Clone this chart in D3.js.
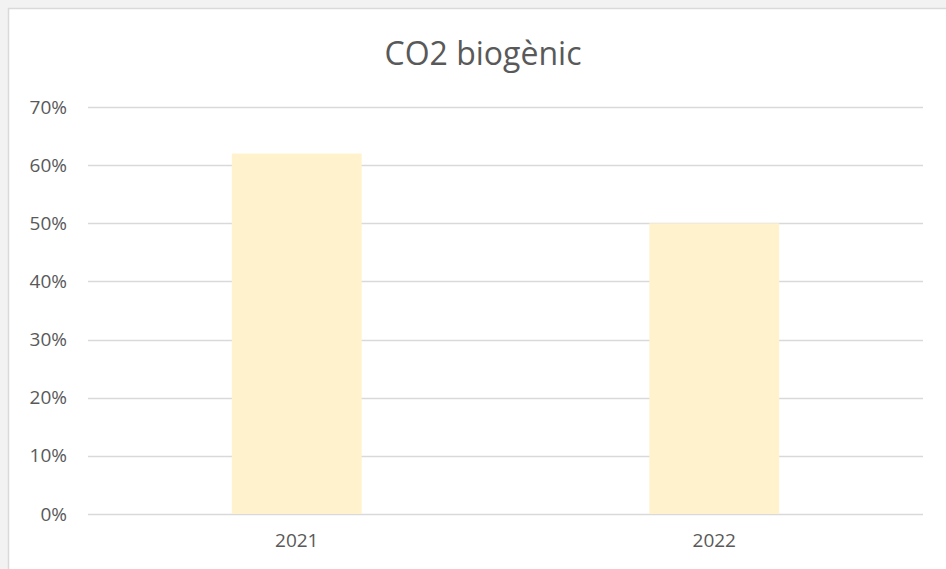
<!DOCTYPE html>
<html><head><meta charset="utf-8">
<script src="https://cdn.jsdelivr.net/npm/d3@7"></script>
<style>
html,body{margin:0;padding:0;background:#f2f2f2;}
svg{display:block;}
</style></head>
<body>
<svg id="chart" width="946" height="569"></svg>
<script>
const title = "CO2 biogènic";
const categories = ["2021", "2022"];
const values = [0.62, 0.50];
const yTicks = [0, 0.1, 0.2, 0.3, 0.4, 0.5, 0.6, 0.7];

(function () {
const svg = d3.select("#chart");
const W = 946, H = 569;
const font = "'Open Sans', 'Liberation Sans', sans-serif";

// chart frame
svg.append("rect").attr("x", 8.5).attr("y", 8.5).attr("width", W + 20).attr("height", H + 20)
  .attr("fill", "#ffffff").attr("stroke", "#d9d9d9").attr("stroke-width", 1.5);

const mLeft = 88, mRight = 923, mTop = 107, mBottom = 514;
const x = d3.scaleBand().domain(categories).range([mLeft, mRight]).paddingInner(0.689).paddingOuter(0.3445);
const y = d3.scaleLinear().domain([0, 0.7]).range([mBottom, mTop]);

// gridlines
svg.append("g").selectAll("line").data(yTicks).join("line")
  .attr("x1", mLeft).attr("x2", mRight)
  .attr("y1", d => Math.round(y(d)) + 0.5).attr("y2", d => Math.round(y(d)) + 0.5)
  .attr("stroke", "#d9d9d9").attr("stroke-width", 1.5);

// y axis labels
const yAxis = d3.axisLeft(y).tickValues(yTicks).tickFormat(d3.format(".0%")).tickSize(0).tickPadding(21);
const gy = svg.append("g").attr("transform", `translate(${mLeft},0)`).call(yAxis);
gy.select(".domain").remove();
gy.selectAll("text").attr("font-family", font).attr("font-size", 19).attr("fill", "#595959");

// bars
svg.append("g").selectAll("rect").data(values).join("rect")
  .attr("x", (d, i) => x(categories[i]))
  .attr("width", x.bandwidth())
  .attr("y", d => y(d))
  .attr("height", d => y(0) - y(d))
  .attr("fill", "#fff2cc");

// x axis labels
const xAxis = d3.axisBottom(x).tickSize(0).tickPadding(20);
const gx = svg.append("g").attr("transform", `translate(0,${mBottom})`).call(xAxis);
gx.select(".domain").remove();
gx.selectAll("text").attr("font-family", font).attr("font-size", 19).attr("fill", "#595959");

// title
svg.append("text").attr("x", 483).attr("y", 65)
  .attr("text-anchor", "middle").attr("font-family", font).attr("font-size", 32)
  .attr("fill", "#595959").text(title);
})();
</script>
</body></html>
